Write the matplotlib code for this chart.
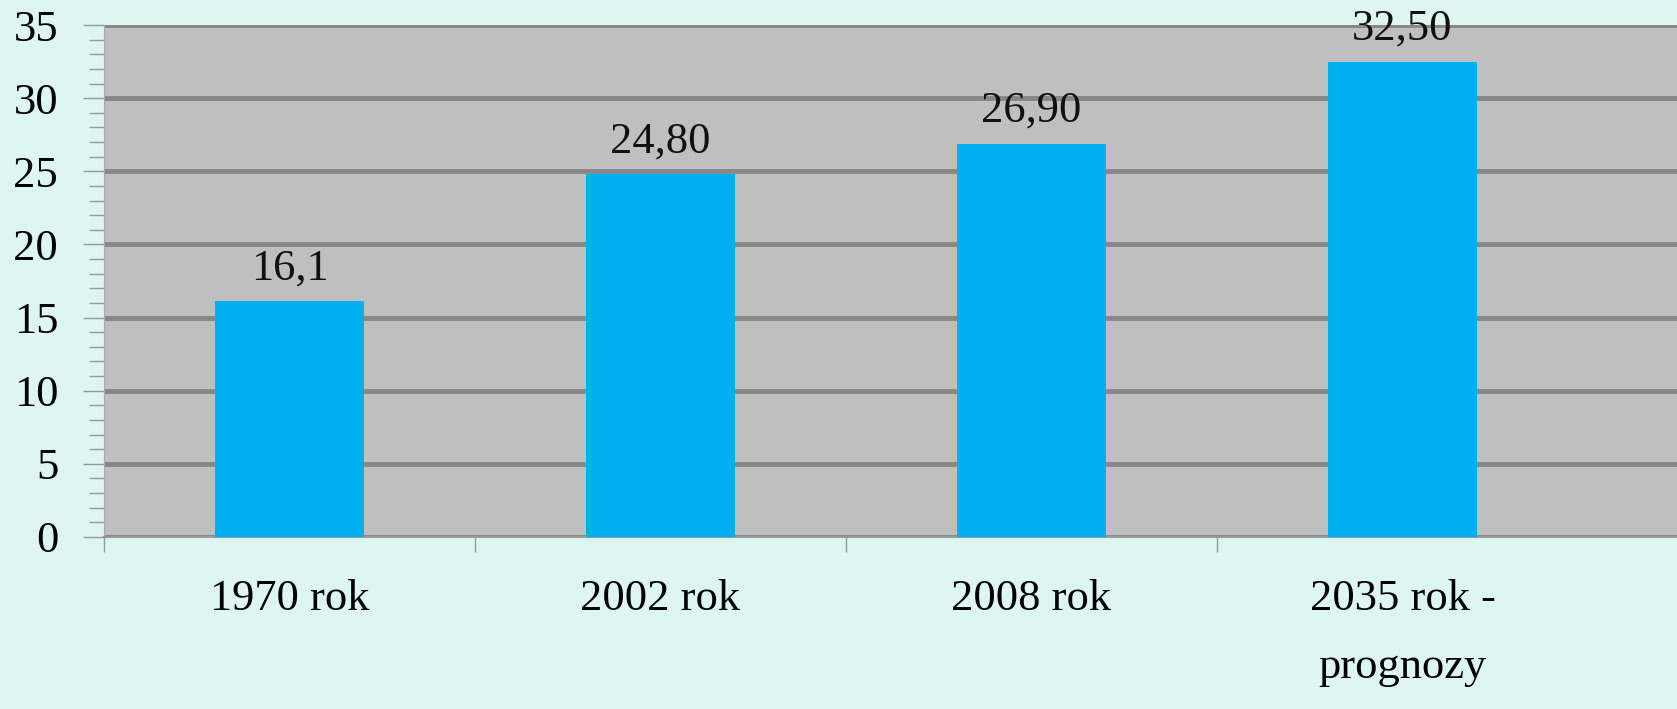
import matplotlib.pyplot as plt
import numpy as np

categories = ['1970 rok', '2002 rok', '2008 rok', '2035 rok -\nprognozy']
values = [16.1, 24.8, 26.9, 32.5]
value_labels = ['16,1', '24,80', '26,90', '32,50']

plt.rcParams['font.family'] = ['Liberation Serif', 'DejaVu Serif']

fig = plt.figure(figsize=(16.77, 7.09), dpi=100, facecolor='#ddf6f2')
ax = fig.add_axes([0.062, 0.2426, 0.938, 0.7221])
ax.set_facecolor('#bfbfbf')

x = np.arange(len(categories))
ax.bar(x, values, width=0.4, color='#00b0f0', zorder=3)

for xi, v, lab in zip(x, values, value_labels):
    ax.text(xi, v + 0.9, lab, ha='center', va='bottom', fontsize=32, color='#111111', zorder=4)

ax.set_ylim(0, 35)
ax.set_xlim(-0.5, 3.74)
ax.set_yticks(range(0, 36, 5))
ax.set_yticks(range(0, 36), minor=True)
ax.yaxis.grid(True, color='#878787', linewidth=3.5, zorder=1)
ax.set_axisbelow(True)

ax.set_xticks([-0.5, 0.5, 1.5, 2.5], minor=False)
ax.set_xticklabels([])
ax.set_xticks(x, minor=True)
ax.set_xticklabels(categories, minor=True, fontsize=32, linespacing=1.9)
ax.tick_params(axis='x', which='major', length=11, color='#999999', width=1)
ax.tick_params(axis='x', which='minor', length=0, pad=30)
ax.tick_params(axis='y', which='major', length=15, color='#999999', width=1, labelsize=32, pad=18)
ax.tick_params(axis='y', which='minor', length=11, color='#999999', width=1)

for s in ['top', 'right']:
    ax.spines[s].set_visible(False)
ax.spines['left'].set_color('#aaaaaa')
ax.spines['bottom'].set_color('#999999')
ax.spines['bottom'].set_linewidth(1.5)

fig.savefig('out.png', dpi=100, facecolor=fig.get_facecolor())
